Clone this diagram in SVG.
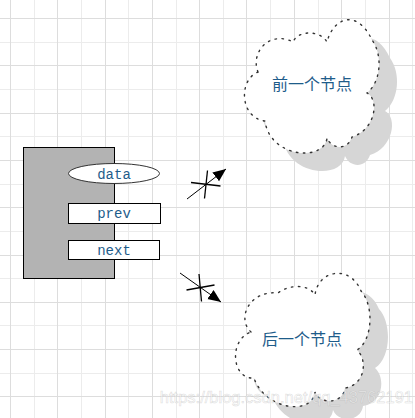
<svg xmlns="http://www.w3.org/2000/svg" width="415" height="418" viewBox="0 0 415 418">
<defs>
<style>
.gmaj{stroke:#dddddd;stroke-width:1;fill:none}
.gmin{stroke:#ececec;stroke-width:1;fill:none}
.cloud{fill:#ffffff;stroke:#333333;stroke-width:1.4;stroke-dasharray:1.5 5.5;stroke-linecap:round}
.shadow{fill:#d6d6d6;stroke:none}
.cn{font-family:"Noto Sans CJK SC","Noto Sans CJK JP",sans-serif;font-size:16px;fill:#1e5c8a;text-anchor:middle}
.mono{font-family:"Liberation Mono","DejaVu Sans Mono",monospace;font-size:14px;fill:#1e5c8a;text-anchor:middle}
.box{fill:#ffffff;stroke:#000000;stroke-width:1}
.conn{stroke:#000000;stroke-width:1;fill:none}
.cross{stroke:#000000;stroke-width:1.3;fill:none}
.wm{font-family:"Liberation Sans",Arial,sans-serif;font-size:16.5px;fill:#ffffff;fill-opacity:0.45;stroke:#9a9a9a;stroke-opacity:0.35;stroke-width:0.6;text-anchor:end}
</style>
<marker id="arrow" markerUnits="userSpaceOnUse" markerWidth="14" markerHeight="12" refX="13" refY="5.5" orient="auto">
<path d="M0,0 L13,5.5 L0,11 z" fill="#000000"/>
</marker>
<path id="cloudA" d="M258,72 C250,52 270,30 293,42 C298,30 320,30 327,42 C333,18 357,8 372,40 C383,55 381,82 367,93 C380,100 375,130 352,137 C348,150 332,150 327,138 C324,162 270,158 265,121 C240,118 238,80 258,72 Z"/>
<path id="cloudB" d="M251,332 C236,318 250,290 278,293 C288,285 308,283 315,295 C318,270 350,264 361,291 C374,305 373,340 357,350 C368,360 365,385 345,388 C343,404 320,405 315,392 C312,416 265,410 254,378 C232,380 228,340 251,332 Z"/>
</defs>
<rect width="415" height="418" fill="#ffffff"/>
<g id="grid">
<path class="gmin" d="M34.5,0V418M81.5,0V418M128.5,0V418M176.5,0V418M223.5,0V418M270.5,0V418M318.5,0V418M365.5,0V418M412.5,0V418M0,42.5H415M0,89.5H415M0,136.5H415M0,184.5H415M0,231.5H415M0,278.5H415M0,325.5H415M0,373.5H415"/>
<path class="gmaj" d="M10.5,0V418M57.5,0V418M105.5,0V418M152.5,0V418M199.5,0V418M246.5,0V418M294.5,0V418M341.5,0V418M389.5,0V418M0,18.5H415M0,65.5H415M0,113.5H415M0,160.5H415M0,207.5H415M0,255.5H415M0,302.5H415M0,349.5H415M0,396.5H415"/>
</g>
<g id="cloud-prev">
<use href="#cloudA" class="shadow" transform="translate(18,18)"/>
<use href="#cloudA" class="cloud"/>
<text class="cn" x="312" y="89.5">前一个节点</text>
</g>
<g id="cloud-next">
<use href="#cloudB" class="shadow" transform="translate(18,18)"/>
<use href="#cloudB" class="cloud"/>
<text class="cn" x="302" y="345">后一个节点</text>
</g>
<g id="connectors">
<line class="conn" x1="187" y1="199" x2="226" y2="169" marker-end="url(#arrow)"/>
<line class="cross" x1="191" y1="182.5" x2="220.5" y2="186"/>
<line class="cross" x1="207.5" y1="170.5" x2="204.5" y2="198.5"/>
<line class="conn" x1="180" y1="273" x2="221" y2="302" marker-end="url(#arrow)"/>
<line class="cross" x1="186.5" y1="290" x2="214.5" y2="285"/>
<line class="cross" x1="199" y1="274" x2="201.5" y2="301.5"/>
</g>
<g id="node">
<rect x="23.5" y="147.5" width="91" height="131" fill="#b3b3b3" stroke="#000000" stroke-width="1"/>
<g id="field-data">
<ellipse cx="114" cy="173.5" rx="45.5" ry="10" fill="#ffffff" stroke="#333333" stroke-width="1"/>
<text class="mono" x="114" y="178.5">data</text>
</g>
<g id="field-prev">
<rect class="box" x="68.5" y="203.5" width="92" height="20"/>
<text class="mono" x="114" y="217.5">prev</text>
</g>
<g id="field-next">
<rect class="box" x="68.5" y="240.5" width="91" height="19"/>
<text class="mono" x="114" y="254.5">next</text>
</g>
</g>
<text class="wm" x="413" y="403">https://blog.csdn.net/qq_43762191</text>
</svg>
